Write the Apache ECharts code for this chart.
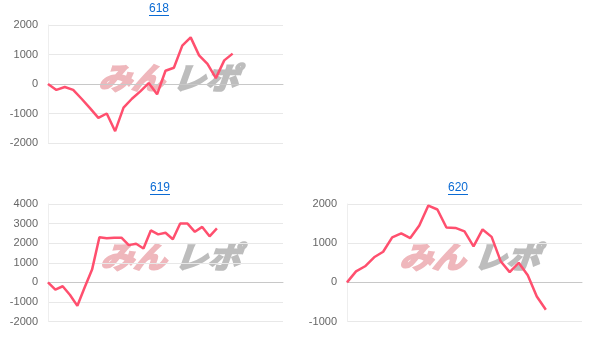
<!DOCTYPE html>
<html><head><meta charset="utf-8">
<script src="https://cdn.jsdelivr.net/npm/echarts@6/dist/echarts.min.js"></script>
<style>html,body{margin:0;padding:0;background:#fff}#c{width:599px;height:344px}</style>
</head><body><div id="c"></div>
<script>
const titles = ['618', '619', '620'];
const catCounts = [29, 33, 27];
const s618 = [0, -200, -100, -200, -500, -820, -1150, -1000, -1600, -800, -500, -250, 30, -350, 450, 550, 1300, 1580, 970, 680, 200, 800, 1030];
const s619 = [0, -370, -200, -650, -1200, -250, 650, 2300, 2250, 2280, 2280, 1900, 1970, 1730, 2650, 2450, 2530, 2200, 3000, 3000, 2580, 2830, 2350, 2750];
const s620 = [0, 280, 410, 640, 780, 1150, 1250, 1130, 1450, 1960, 1860, 1400, 1390, 1300, 920, 1350, 1160, 540, 260, 500, 180, -360, -700];
const yMins = [-2000, -2000, -1000];
const yMaxs = [2000, 4000, 2000];
const series = [s618, s619, s620];

const grids = [
  {left: 48, top: 25, width: 235, height: 118},
  {left: 48, top: 204, width: 235, height: 117.5},
  {left: 347, top: 204, width: 235, height: 117.5}
];
const titlePos = [{x: 159, y: 3}, {x: 160, y: 182}, {x: 458, y: 182}];
const wm = [{x: 102, y: 78}, {x: 104, y: 257}, {x: 403, y: 257}];

const chart = echarts.init(document.getElementById('c'));
const graphic = [];
titlePos.forEach((p, i) => {
  graphic.push({type: 'text', z: 10, x: p.x, y: p.y, style: {text: titles[i], fill: '#0b6bd4', font: '12px Arial, "Liberation Sans", sans-serif', textAlign: 'center', textVerticalAlign: 'top'}});
  graphic.push({type: 'line', z: 10, shape: {x1: p.x - 10, y1: p.y + 12.5, x2: p.x + 10, y2: p.y + 12.5}, style: {stroke: '#0b6bd4', lineWidth: 1}});
});
wm.forEach(p => {
  graphic.push({type: 'text', z: -1, x: p.x, y: p.y, skewX: -0.35, scaleY: 0.9, style: {text: 'みん', font: 'bold 33px "Noto Sans CJK JP"', fill: '#efb7bc', stroke: '#efb7bc', lineWidth: 2.5, textVerticalAlign: 'middle'}});
  graphic.push({type: 'text', z: -1, x: p.x + 74, y: p.y, skewX: -0.35, scaleY: 0.9, style: {text: 'レポ', font: 'bold 33px "Noto Sans CJK JP"', fill: '#bdbdbd', stroke: '#bdbdbd', lineWidth: 2.5, textVerticalAlign: 'middle'}});
});

chart.setOption({
  animation: false,
  graphic: graphic,
  grid: grids,
  xAxis: catCounts.map((n, i) => ({
    type: 'category', gridIndex: i, boundaryGap: false,
    data: Array.from({length: n}, (_, k) => String(k + 1)),
    axisLine: {show: true, lineStyle: {color: '#c8c8c8'}},
    axisTick: {show: false}, axisLabel: {show: false}, splitLine: {show: false}
  })),
  yAxis: yMins.map((mn, i) => ({
    type: 'value', gridIndex: i, min: mn, max: yMaxs[i], interval: 1000,
    axisLine: {show: true, lineStyle: {color: '#eeeeee'}},
    axisTick: {show: false},
    axisLabel: {color: '#666', fontSize: 11, margin: 10, fontFamily: 'Arial, "Liberation Sans", sans-serif', formatter: v => String(v)},
    splitLine: {lineStyle: {color: '#e8e8e8'}}
  })),
  series: series.map((d, i) => ({
    type: 'line', xAxisIndex: i, yAxisIndex: i, data: d,
    showSymbol: false, symbol: 'none',
    lineStyle: {color: '#ff4f6e', width: 2.5}, z: 5
  }))
});
</script></body></html>
